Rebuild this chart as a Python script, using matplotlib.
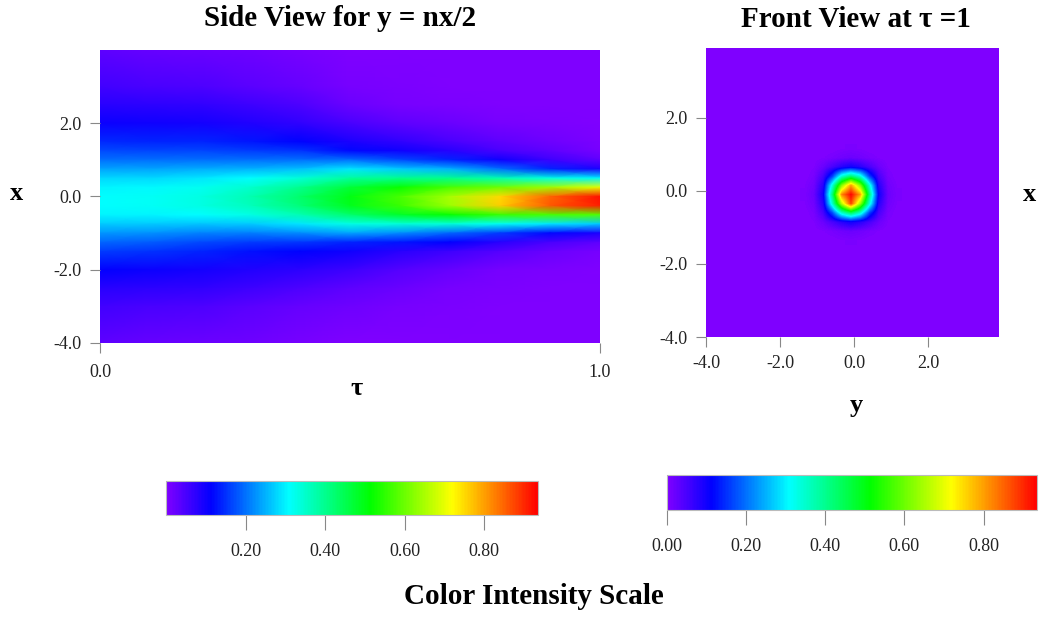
import matplotlib
matplotlib.use("Agg")
import matplotlib.pyplot as plt
import numpy as np
from matplotlib.colors import LinearSegmentedColormap, Normalize
from matplotlib.cm import ScalarMappable

plt.rcParams['font.family'] = ['Liberation Serif', 'DejaVu Serif']

# side view: intensity, one column per tau
tau_cols = [0.0, 0.1, 0.2, 0.3, 0.4, 0.5, 0.6, 0.7, 0.8, 0.9, 1.0]
x_rows = [4.0, 3.0, 2.5, 2.0, 1.5, 1.25, 1.0, 0.75, 0.5, 0.25, 0.0,
          -0.25, -0.5, -0.75, -1.0, -1.25, -1.5, -2.0, -2.5, -3.0, -4.0]
side_t00 = [0.03, 0.055, 0.08, 0.105, 0.145, 0.17, 0.20, 0.24, 0.28, 0.30, 0.31,
            0.31, 0.30, 0.27, 0.23, 0.19, 0.16, 0.11, 0.08, 0.055, 0.03]
side_t01 = [0.025, 0.05, 0.075, 0.10, 0.14, 0.165, 0.20, 0.24, 0.28, 0.305, 0.315,
            0.315, 0.30, 0.27, 0.225, 0.185, 0.15, 0.105, 0.075, 0.05, 0.025]
side_t02 = [0.02, 0.045, 0.07, 0.095, 0.14, 0.165, 0.20, 0.245, 0.29, 0.32, 0.33,
            0.33, 0.31, 0.265, 0.215, 0.17, 0.14, 0.095, 0.07, 0.045, 0.02]
side_t03 = [0.015, 0.035, 0.06, 0.085, 0.13, 0.16, 0.20, 0.25, 0.31, 0.35, 0.37,
            0.365, 0.33, 0.27, 0.21, 0.16, 0.125, 0.085, 0.06, 0.035, 0.015]
side_t04 = [0.01, 0.025, 0.045, 0.07, 0.115, 0.15, 0.20, 0.26, 0.34, 0.40, 0.43,
            0.42, 0.37, 0.29, 0.22, 0.155, 0.115, 0.075, 0.045, 0.025, 0.01]
side_t05 = [0.0, 0.01, 0.02, 0.05, 0.09, 0.12, 0.20, 0.29, 0.39, 0.47, 0.50,
            0.49, 0.43, 0.33, 0.24, 0.14, 0.10, 0.06, 0.03, 0.015, 0.0]
side_t06 = [0.0, 0.005, 0.01, 0.03, 0.07, 0.10, 0.17, 0.27, 0.40, 0.52, 0.57,
            0.56, 0.48, 0.34, 0.22, 0.13, 0.08, 0.04, 0.02, 0.01, 0.0]
side_t07 = [0.0, 0.0, 0.005, 0.02, 0.05, 0.08, 0.14, 0.25, 0.40, 0.57, 0.65,
            0.64, 0.52, 0.34, 0.19, 0.11, 0.06, 0.025, 0.01, 0.005, 0.0]
side_t08 = [0.0, 0.0, 0.0, 0.01, 0.03, 0.05, 0.10, 0.20, 0.37, 0.60, 0.75,
            0.76, 0.56, 0.32, 0.16, 0.08, 0.04, 0.01, 0.005, 0.0, 0.0]
side_t09 = [0.0, 0.0, 0.0, 0.005, 0.015, 0.03, 0.06, 0.14, 0.33, 0.64, 0.85,
            0.86, 0.57, 0.29, 0.12, 0.05, 0.02, 0.005, 0.0, 0.0, 0.0]
side_t10 = [0.0, 0.0, 0.0, 0.0, 0.005, 0.01, 0.03, 0.09, 0.30, 0.70, 0.92,
            0.91, 0.58, 0.27, 0.09, 0.03, 0.01, 0.0, 0.0, 0.0, 0.0]

# front view at tau = 1: cells every 0.25 around the spot centre
front_y = [-1.25, -1.0, -0.75, -0.5, -0.25, 0.0, 0.25, 0.5, 0.75, 1.0, 1.25]
front_x = [1.25, 1.0, 0.75, 0.5, 0.25, 0.0, -0.25, -0.5, -0.75, -1.0, -1.25]
front_grid = [
    [0, 0, 0, 0, 0.003, 0.005, 0.003, 0, 0, 0, 0],
    [0, 0, 0.003, 0.008, 0.015, 0.02, 0.015, 0.008, 0.003, 0, 0],
    [0, 0.003, 0.02, 0.05, 0.08, 0.10, 0.08, 0.05, 0.02, 0.003, 0],
    [0, 0.008, 0.05, 0.16, 0.34, 0.42, 0.34, 0.16, 0.05, 0.008, 0],
    [0.003, 0.015, 0.08, 0.34, 0.62, 0.80, 0.62, 0.34, 0.08, 0.015, 0.003],
    [0.005, 0.02, 0.10, 0.42, 0.82, 0.93, 0.80, 0.42, 0.10, 0.02, 0.005],
    [0.003, 0.015, 0.08, 0.35, 0.66, 0.88, 0.64, 0.34, 0.08, 0.015, 0.003],
    [0, 0.008, 0.05, 0.17, 0.35, 0.44, 0.35, 0.16, 0.05, 0.008, 0],
    [0, 0.003, 0.02, 0.05, 0.08, 0.10, 0.08, 0.05, 0.02, 0.003, 0],
    [0, 0, 0.003, 0.008, 0.015, 0.02, 0.015, 0.008, 0.003, 0, 0],
    [0, 0, 0, 0, 0.003, 0.005, 0.003, 0, 0, 0, 0],
]
spot_centre = (-0.08, -0.1)

side_ticks_x = [0.0, 1.0]
axis_ticks = [-4.0, -2.0, 0.0, 2.0]
cbar_left_ticks = [0.2, 0.4, 0.6, 0.8]
cbar_right_ticks = [0.0, 0.2, 0.4, 0.6, 0.8]

cmap = LinearSegmentedColormap.from_list(
    "intensity",
    [(0.0, "#7f00ff"), (0.12, "#0000ff"), (0.33, "#00ffff"),
     (0.55, "#00ff00"), (0.77, "#ffff00"), (1.0, "#ff0000")])
norm = Normalize(vmin=0.0, vmax=0.935)

fig = plt.figure(figsize=(10.4, 6.17), dpi=100)

def style_axis(ax):
    for s in ax.spines.values():
        s.set_visible(False)
    ax.tick_params(direction="out", length=7, width=0.8, color="#888888",
                   labelsize=13, pad=6, labelcolor="#222222")

# side view
ax1 = fig.add_axes([0.0962, 0.4441, 0.4808, 0.4749])
side = np.column_stack([side_t00, side_t01, side_t02, side_t03, side_t04, side_t05,
                        side_t06, side_t07, side_t08, side_t09, side_t10])
T, X = np.meshgrid(tau_cols, x_rows)
ax1.pcolormesh(T, X, side, cmap=cmap, norm=norm, shading="gouraud")
ax1.set_xlim(0, 1.0)
ax1.set_ylim(-4, 4)
ax1.set_xticks(side_ticks_x)
ax1.set_xticklabels(["%.1f" % v for v in side_ticks_x])
ax1.set_yticks(axis_ticks)
ax1.set_yticklabels(["%.1f" % v for v in axis_ticks])
style_axis(ax1)
ax1.tick_params(axis="x", pad=8)
fig.text(0.327, 0.958, "Side View for y = nx/2", fontsize=21, fontweight="bold",
         ha="center", va="baseline")
fig.text(0.016, 0.687, "x", fontsize=19, fontweight="bold", ha="center", va="center")
fig.text(0.343, 0.371, "τ", fontsize=19, fontweight="bold", ha="center", va="center")

# front view
ax2 = fig.add_axes([0.6788, 0.4538, 0.2817, 0.4684])
ax2.set_facecolor(cmap(0.0))
step = 0.25
ext = [front_y[0] - step / 2 + spot_centre[0], front_y[-1] + step / 2 + spot_centre[0],
       front_x[-1] - step / 2 + spot_centre[1], front_x[0] + step / 2 + spot_centre[1]]
ax2.imshow(np.array(front_grid), cmap=cmap, norm=norm, extent=ext,
           interpolation="bilinear", aspect="auto")
ax2.set_xlim(-4, 3.9)
ax2.set_ylim(-4, 3.9)
ax2.set_xticks(axis_ticks)
ax2.set_xticklabels(["%.1f" % v for v in axis_ticks])
ax2.set_yticks(axis_ticks)
ax2.set_yticklabels(["%.1f" % v for v in axis_ticks])
style_axis(ax2)
ax2.tick_params(axis="x", pad=6)
fig.text(0.823, 0.957, "Front View at τ =1", fontsize=21, fontweight="bold",
         ha="center", va="baseline")
fig.text(0.990, 0.684, "x", fontsize=19, fontweight="bold", ha="center", va="center")
fig.text(0.823, 0.342, "y", fontsize=19, fontweight="bold", ha="center", va="center")

# colour scales
sm = ScalarMappable(norm=norm, cmap=cmap)
cax1 = fig.add_axes([0.1596, 0.1653, 0.3577, 0.0551])
cb1 = fig.colorbar(sm, cax=cax1, orientation="horizontal")
cb1.set_ticks(cbar_left_ticks)
cb1.set_ticklabels(["%.2f" % v for v in cbar_left_ticks])

cax2 = fig.add_axes([0.6413, 0.1734, 0.3558, 0.0567])
cb2 = fig.colorbar(sm, cax=cax2, orientation="horizontal")
cb2.set_ticks(cbar_right_ticks)
cb2.set_ticklabels(["%.2f" % v for v in cbar_right_ticks])

for cb in (cb1, cb2):
    cb.outline.set_edgecolor("#bbbbbb")
    cb.outline.set_linewidth(0.8)
    cb.ax.tick_params(direction="out", length=11, width=0.8, color="#888888",
                      labelsize=13, pad=9, labelcolor="#222222")

fig.text(0.513, 0.033, "Color Intensity Scale", fontsize=21, fontweight="bold",
         ha="center", va="center")

fig.savefig("out.png", dpi=100)
